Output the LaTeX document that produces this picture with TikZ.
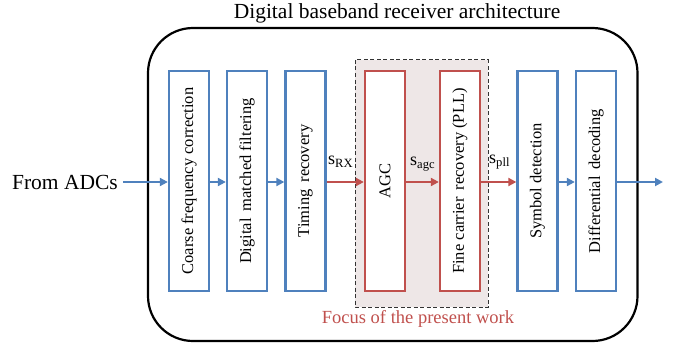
\documentclass[tikz,border=0pt]{standalone}
\usepackage{fontspec}
\setmainfont{Liberation Serif}
\usetikzlibrary{arrows.meta}
\definecolor{bblue}{RGB}{79,129,189}
\definecolor{bred}{RGB}{192,80,77}
\definecolor{focusbg}{RGB}{238,231,231}
\tikzset{
  stage/.style={draw=bblue, fill=white, line width=2.3pt, minimum width=40pt, minimum height=220pt,
    inner sep=0pt},
  rstage/.style={stage, draw=bred},
  label/.style={rotate=90, font=\fontsize{16.5}{16.5}\selectfont},
  flow/.style={draw=bblue, line width=2.2pt, -{Triangle[length=8pt,width=8pt]}},
  rflow/.style={flow, draw=bred},
  sig/.style={font=\fontsize{18}{18}\selectfont, inner sep=0pt},
}
\begin{document}
\begin{tikzpicture}[x=1pt,y=-1pt]
\useasboundingbox (0,0) rectangle (677,345);
% outer enclosure
\draw[line width=2.2pt, rounded corners=45pt] (148,28) rectangle (637.5,341);
\node[font=\fontsize{21.5}{21.5}\selectfont] (title) at (397,13) {Digital baseband receiver architecture};
% highlighted region
\draw[fill=focusbg, draw=black!80, line width=1pt, dash pattern=on 4pt off 2.5pt] (355,60) rectangle (488,307);
\node[text=bred, font=\fontsize{18.5}{18.5}\selectfont] (focus) at (418,319) {Focus of the present work};
% stages
\node[stage] (cfc) at (189,181) {};
\node[label] at (cfc) {Coarse frequency correction};
\node[stage] (dmf) at (247,181) {};
\node[label] at (dmf) {Digital\, matched filtering};
\node[stage] (tr) at (305.5,181) {};
\node[label] at (tr) {Timing\, recovery};
\node[rstage] (agc) at (385,181) {};
\node[label] at (agc) {AGC};
\node[rstage] (pll) at (460,181) {};
\node[label] at (pll) {Fine carrier\, recovery (PLL)};
\node[stage] (sd) at (537.5,181) {};
\node[label] at (sd) {Symbol detection};
\node[stage] (dd) at (596,181) {};
\node[label] at (dd) {Differential\, decoding};
% input / output
\node[font=\fontsize{21.5}{21.5}\selectfont, anchor=east, inner sep=0pt] (adc) at (118,182) {From ADCs};
\coordinate (out) at (663,182);
\draw[flow] (adc.east) ++(5,0) -- (cfc.west |- 0,182);
\draw[flow] (cfc.east |- 0,182) -- (dmf.west |- 0,182);
\draw[flow] (dmf.east |- 0,182) -- (tr.west |- 0,182);
\draw[rflow] (tr.east |- 0,182) -- (agc.west |- 0,182);
\draw[rflow] (agc.east |- 0,182) -- (pll.west |- 0,182);
\draw[rflow] (pll.east |- 0,182) -- (sd.west |- 0,182);
\draw[flow] (sd.east |- 0,182) -- (dd.west |- 0,182);
\draw[flow] (dd.east |- 0,182) -- (out);
% signal labels
\node[sig, anchor=west] (srx) at (328,162) {s\textsubscript{RX}};
\node[sig, anchor=west] (sagc) at (410,164) {s\textsubscript{agc}};
\node[sig, anchor=west] (spll) at (489,162) {s\textsubscript{pll}};
\end{tikzpicture}
\end{document}
